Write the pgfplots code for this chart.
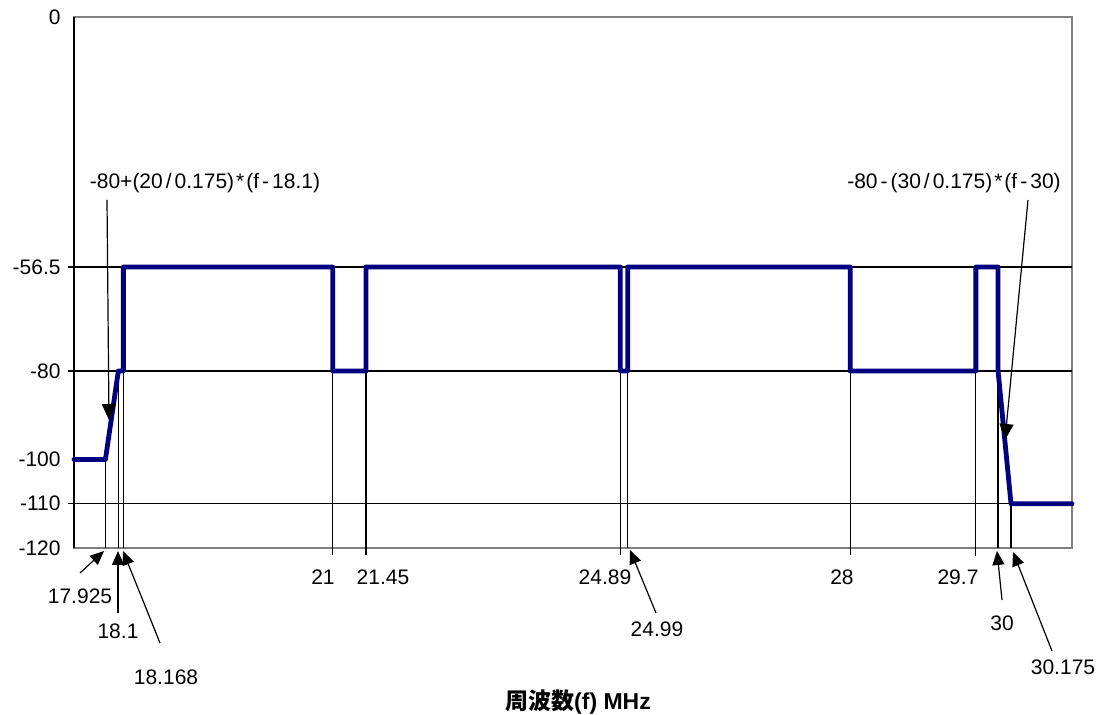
\documentclass[border=0pt]{standalone}
\usepackage{fontspec}
\setmainfont{Liberation Sans}
\newfontfamily\cjk{Noto Sans CJK JP}
\usepackage{pgfplots}
\pgfplotsset{compat=1.18}
\usetikzlibrary{arrows.meta}
\definecolor{navyline}{RGB}{0,0,128}
\definecolor{frame}{RGB}{128,128,128}
\begin{document}
\fontsize{10.5}{12.6}\selectfont
\begin{tikzpicture}[font=\fontsize{10.5}{12.6}\selectfont]
\path[use as bounding box] (-37pt,-83.5pt) rectangle (515.5pt,274pt);
\begin{axis}[
  at={(0,0)}, anchor=south west,
  scale only axis, width=499pt, height=265.5pt,
  xmin=17.5, xmax=31, ymin=-120, ymax=0,
  clip=false,
  axis line style={draw=frame, line width=0.8pt},
  xtick=\empty,
  ytick={-120,-110,-100,-80,-56.5,0},
  yticklabels={-120,-110,-100,-80,-56.5,0},
  ytick pos=left,
  tick style={black, line width=0.5pt},
  major tick length=3pt,
  tick align=inside,
  yticklabel style={xshift=-3pt},
]
% gridlines
\foreach \yy in {-56.5,-80,-110}{
  \edef\tmp{\noexpand\draw[black, line width=0.6pt] (axis cs:17.419,\yy) -- (axis cs:31,\yy);}\tmp
}
% vertical reference lines
\draw[black, line width=0.6pt] (axis cs:17.925,-120) -- (axis cs:17.925,-100);
\draw[black, line width=0.6pt] (axis cs:18.1,-120) -- (axis cs:18.1,-80);
\draw[black, line width=0.6pt] (axis cs:18.168,-120) -- (axis cs:18.168,-80);
\draw[black, line width=0.6pt] (axis cs:21,-121.6) -- (axis cs:21,-80);
\draw[black, line width=0.6pt] (axis cs:21.45,-121.5) -- (axis cs:21.45,-80);
\draw[black, line width=0.6pt] (axis cs:24.89,-121.6) -- (axis cs:24.89,-80);
\draw[black, line width=0.6pt] (axis cs:24.99,-120) -- (axis cs:24.99,-80);
\draw[black, line width=0.6pt] (axis cs:28,-121.6) -- (axis cs:28,-80);
\draw[black, line width=0.6pt] (axis cs:29.7,-121.8) -- (axis cs:29.7,-80);
\draw[black, line width=0.6pt] (axis cs:30,-120) -- (axis cs:30,-80);
\draw[black, line width=0.6pt] (axis cs:30.175,-120) -- (axis cs:30.175,-110);
% left axis line in black
\draw[black, line width=0.8pt] (rel axis cs:0,0) -- (rel axis cs:0,1);
\addplot[navyline, line width=2.4pt, line join=round, line cap=round] coordinates {
 (17.5,-100) (17.925,-100) (18.1,-80) (18.168,-80) (18.168,-56.5)
 (21,-56.5) (21,-80) (21.45,-80) (21.45,-56.5)
 (24.89,-56.5) (24.89,-80) (24.99,-80) (24.99,-56.5)
 (28,-56.5) (28,-80) (29.7,-80) (29.7,-56.5)
 (30,-56.5) (30,-80) (30.175,-110) (31,-110)
};
\end{axis}
\begin{scope}[shift={(-37pt,274pt)}, x=0.5pt, y=-0.5pt]
\tikzset{arr/.style={-{Triangle[length=7pt,width=6pt]}, black, line width=0.6pt}}
% bottom labels
\node at (80,596) {17.925};
\node at (118,631) {18.1};
\node at (166,677) {18.168};
\node at (323,577) {21};
\node at (383,577) {21.45};
\node at (605,577) {24.89};
\node at (657,629) {24.99};
\node at (842,577) {28};
\node at (958,577) {29.7};
\node at (1002,623) {30};
\node at (1063,667) {30.175};
\draw[arr] (80,573) -- (104,551);
\draw[arr] (118,613) -- (118,551);
\draw[arr] (160,643) -- (123,551);
\draw[arr] (656,613) -- (630,550);
\draw[arr] (1002,600) -- (997,551);
\draw[arr] (1052,651) -- (1013,552);
% formula annotations
\node at (205,183) {-80+(20\hspace{1.5pt}/\hspace{1.5pt}0.175)\hspace{1pt}*\hspace{1pt}(f\hspace{1.5pt}-\hspace{1.5pt}18.1)};
\node at (954,183) {-80\hspace{1.5pt}-\hspace{1.5pt}(30\hspace{1.5pt}/\hspace{1.5pt}0.175)\hspace{1pt}*\hspace{1pt}(f\hspace{1.5pt}-\hspace{1.5pt}30)};
\draw[-{Triangle[length=8pt,width=7pt]}, black, line width=0.6pt] (107,200) -- (109,420);
\draw[-{Triangle[length=8pt,width=7pt]}, black, line width=0.6pt] (1028,200) -- (1005,440);
% axis title
\node[font=\fontsize{11.5}{13.8}\selectfont\bfseries] at (578,702) {{\cjk\bfseries 周波数}(f) MHz};
\end{scope}
\end{tikzpicture}
\end{document}
